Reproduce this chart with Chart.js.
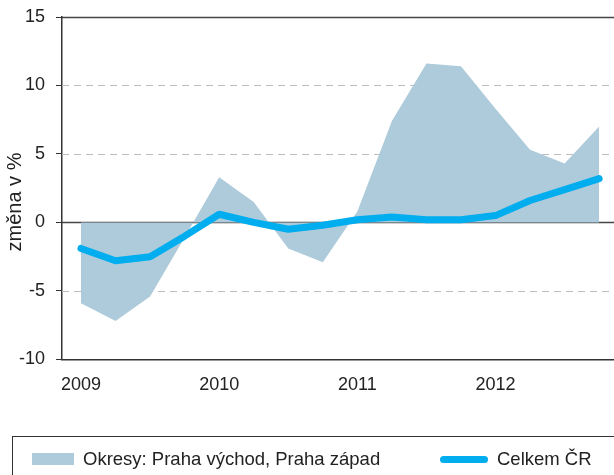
<!DOCTYPE html>
<html>
<head>
<meta charset="utf-8">
<script src="https://cdn.jsdelivr.net/npm/chart.js@4.4.1/dist/chart.umd.min.js"></script>
<style>
  html, body { margin: 0; padding: 0; background: #fff; overflow: hidden; }
  #wrap { position: relative; width: 614px; height: 475px; }
  #legend {
    position: absolute; left: 12px; top: 436px; width: 640px; height: 70px;
    border: 1px solid #333; box-sizing: border-box;
    font: 18.5px "Liberation Sans", Arial, sans-serif; color: #222;
  }
  .item { position: absolute; top: 11px; display: flex; align-items: center; white-space: nowrap; }
  .swatch-area { width: 42px; height: 12px; background: #aecbdb; margin-right: 9px; }
  .swatch-line { width: 48px; height: 7px; border-radius: 4px; background: #00adef; margin-right: 9px; }
</style>
</head>
<body>
<div id="wrap">
  <canvas id="c" width="614" height="475"></canvas>
  <div id="legend">
    <div class="item" style="left:19px"><span class="swatch-area"></span>Okresy: Praha východ, Praha západ</div>
    <div class="item" style="left:427px"><span class="swatch-line"></span>Celkem ČR</div>
  </div>
</div>
<script>
// quarterly data 2009 Q1 .. 2012 Q4
const quarters = ['2009 Q1','2009 Q2','2009 Q3','2009 Q4','2010 Q1','2010 Q2','2010 Q3','2010 Q4',
                  '2011 Q1','2011 Q2','2011 Q3','2011 Q4','2012 Q1','2012 Q2','2012 Q3','2012 Q4'];
const yearLabels = ['2009', '2010', '2011', '2012'];
const okresy = [-5.9, -7.2, -5.4, -1.1, 3.3, 1.5, -1.9, -2.9, 0.8, 7.4, 11.6, 11.4, 8.3, 5.3, 4.3, 7.0];
const celkemCR = [-1.9, -2.8, -2.5, -1.0, 0.6, 0.0, -0.5, -0.2, 0.2, 0.4, 0.2, 0.2, 0.5, 1.6, 2.4, 3.2];
const yTicks = [-10, -5, 0, 5, 10, 15];
const yTitle = 'změna v %';

const FONT = '"Liberation Sans", Arial, sans-serif';
const textColor = '#222';
const axisColor = '#333';

const toPoints = (arr) => arr.map((v, i) => ({ x: i, y: v }));

// dashed grid lines + zero line + top frame, drawn under the datasets
const gridPlugin = {
  id: 'gridPlugin',
  beforeDatasetsDraw(chart) {
    const { ctx, chartArea } = chart;
    const ys = chart.scales.y;
    ctx.save();
    yTicks.forEach(v => {
      if (v === ys.min) return;
      const py = Math.round(ys.getPixelForValue(v)) + 0.5;
      ctx.beginPath();
      if (v === 0 || v === ys.max) {
        ctx.setLineDash([]);
        ctx.strokeStyle = '#444';
        ctx.lineWidth = 1.5;
      } else {
        ctx.setLineDash([7, 5]);
        ctx.strokeStyle = '#bdbdbd';
        ctx.lineWidth = 1;
      }
      ctx.moveTo(chartArea.left, py);
      ctx.lineTo(chartArea.right, py);
      ctx.stroke();
    });
    ctx.restore();
  }
};

// rotated y axis title (sits a bit below the plot middle in the original)
const yTitlePlugin = {
  id: 'yTitlePlugin',
  afterDraw(chart) {
    const { ctx } = chart;
    ctx.save();
    ctx.translate(15, 202);
    ctx.rotate(-Math.PI / 2);
    ctx.fillStyle = textColor;
    ctx.font = '20px ' + FONT;
    ctx.textAlign = 'center';
    ctx.textBaseline = 'middle';
    ctx.fillText(yTitle, 0, 0);
    ctx.restore();
  }
};

new Chart(document.getElementById('c'), {
  type: 'line',
  data: {
    labels: quarters,
    datasets: [
      {
        label: 'Okresy: Praha východ, Praha západ',
        data: toPoints(okresy),
        fill: 'origin',
        backgroundColor: '#aecbdb',
        borderWidth: 0,
        pointRadius: 0,
        tension: 0,
        order: 2
      },
      {
        label: 'Celkem ČR',
        data: toPoints(celkemCR),
        fill: false,
        borderColor: '#00adef',
        borderWidth: 7,
        borderCapStyle: 'round',
        borderJoinStyle: 'round',
        pointRadius: 0,
        tension: 0,
        order: 1
      }
    ]
  },
  options: {
    responsive: false,
    animation: false,
    layout: { padding: { top: 17, right: 0, bottom: 72, left: 0 } },
    plugins: {
      legend: { display: false },
      tooltip: { enabled: false }
    },
    scales: {
      x: {
        type: 'linear',
        min: -0.55,
        max: 15.43,
        afterBuildTicks(scale) {
          scale.ticks = yearLabels.map((_, k) => ({ value: k * 4 }));
        },
        ticks: {
          color: textColor,
          font: { family: FONT, size: 18 },
          padding: 7,
          maxRotation: 0,
          autoSkip: false,
          callback: (val, idx) => yearLabels[idx]
        },
        grid: { display: false },
        border: { display: true, color: axisColor, width: 1.5 }
      },
      y: {
        min: -10,
        max: 15,
        afterBuildTicks(scale) {
          scale.ticks = yTicks.map(v => ({ value: v }));
        },
        afterFit(scale) {
          scale.width = 62;
          scale.paddingTop = 0;
          scale.paddingBottom = 0;
        },
        ticks: {
          color: textColor,
          font: { family: FONT, size: 18 },
          padding: 11
        },
        grid: { drawOnChartArea: false, tickLength: 6, color: axisColor },
        border: { display: true, color: axisColor, width: 1.5 }
      }
    }
  },
  plugins: [gridPlugin, yTitlePlugin]
});
</script>
</body>
</html>
